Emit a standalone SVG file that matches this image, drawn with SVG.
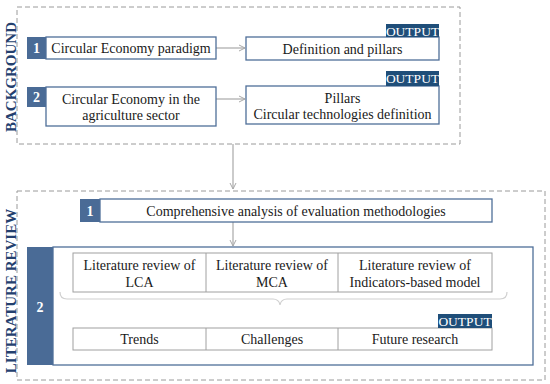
<svg xmlns="http://www.w3.org/2000/svg" width="550" height="384" viewBox="0 0 550 384">
<style>
.dash{fill:none;stroke:#9a9a9a;stroke-width:1;stroke-dasharray:5,3}
.num{fill:#4a6b96}
.box{fill:#fff;stroke:#4f6f99;stroke-width:1.3}
.cell{fill:#fff;stroke:#a0a0a0;stroke-width:1}
.t{font-family:"Liberation Serif","Times New Roman",serif;font-size:14px;fill:#1a1a1a;text-anchor:middle}
.nt{font-family:"Liberation Serif","Times New Roman",serif;font-size:14px;font-weight:bold;fill:#fff;text-anchor:middle}
.out{fill:#1f4e79}
.ot{font-family:"Liberation Serif","Times New Roman",serif;font-size:13.5px;fill:#fff;text-anchor:middle}
.side{font-family:"Liberation Serif","Times New Roman",serif;font-size:15px;font-weight:bold;fill:#24406e;text-anchor:middle}
.conn{fill:none;stroke:#a8a8a8;stroke-width:1.2}
</style>
<defs>
<marker id="ah" markerWidth="8" markerHeight="8" refX="7" refY="4" orient="auto" markerUnits="userSpaceOnUse">
<path d="M1,1 L7,4 L1,7" fill="none" stroke="#a8a8a8" stroke-width="1"/>
</marker>
</defs>

<g id="background">
<rect class="dash" x="17" y="7" width="443" height="137"/>
<text class="side" transform="translate(16,77) rotate(-90)">BACKGROUND</text>
</g>

<g id="literature">
<rect class="dash" x="17" y="191" width="528" height="189"/>
<text class="side" transform="translate(16,291) rotate(-90)">LITERATURE REVIEW</text>
</g>

<g id="connectors">
<line class="conn" x1="216" y1="48" x2="245" y2="48" marker-end="url(#ah)"/>
<line class="conn" x1="216" y1="99" x2="245" y2="99" marker-end="url(#ah)"/>
<line class="conn" x1="233" y1="144" x2="233" y2="189" marker-end="url(#ah)"/>
<line class="conn" x1="233" y1="222" x2="233" y2="246" marker-end="url(#ah)"/>
</g>

<g id="bg1">
<rect class="num" x="27" y="37" width="19" height="22"/>
<text class="nt" x="36.5" y="53">1</text>
<rect class="box" x="46" y="37" width="170" height="22"/>
<text class="t" x="131" y="53">Circular Economy paradigm</text>
</g>

<g id="bg2">
<rect class="num" x="27" y="87" width="19" height="20"/>
<text class="nt" x="36.5" y="102">2</text>
<rect class="box" x="46" y="87" width="170" height="39"/>
<text class="t" x="131" y="104">Circular Economy in the</text>
<text class="t" x="131" y="120">agriculture sector</text>
</g>

<g id="out1">
<rect class="box" x="246" y="37" width="193" height="23"/>
<text class="t" x="342.5" y="54">Definition and pillars</text>
<rect class="out" x="386" y="24" width="53" height="13"/>
<text class="ot" x="412.5" y="35.5">OUTPUT</text>
</g>

<g id="out2">
<rect class="box" x="246" y="86" width="193" height="38"/>
<text class="t" x="342.5" y="103">Pillars</text>
<text class="t" x="342.5" y="119">Circular technologies definition</text>
<rect class="out" x="386" y="71" width="53" height="15"/>
<text class="ot" x="412.5" y="83">OUTPUT</text>
</g>

<g id="lr1">
<rect class="num" x="80" y="199" width="20" height="23"/>
<text class="nt" x="90" y="215.5">1</text>
<rect class="box" x="100" y="199" width="392" height="23"/>
<text class="t" x="296" y="216">Comprehensive analysis of evaluation methodologies</text>
</g>

<g id="lr2">
<rect class="num" x="27" y="247" width="26" height="118"/>
<text class="nt" x="40" y="312">2</text>
<rect class="box" x="53" y="247" width="480" height="118"/>
<rect class="cell" x="73" y="253" width="419" height="39"/>
<line class="cell" x1="206" y1="253" x2="206" y2="292"/>
<line class="cell" x1="338" y1="253" x2="338" y2="292"/>
<text class="t" x="139.5" y="270">Literature review of</text>
<text class="t" x="139.5" y="287">LCA</text>
<text class="t" x="272" y="270">Literature review of</text>
<text class="t" x="272" y="287">MCA</text>
<text class="t" x="415" y="270">Literature review of</text>
<text class="t" x="415" y="287">Indicators-based model</text>
<path d="M60,292 Q60,299 67,299 L273,299 Q279,299 280,305 Q281,299 287,299 L500,299 Q507,299 507,292" fill="none" stroke="#d0d0d0" stroke-width="1.2"/>
<rect class="cell" x="73" y="328" width="419" height="22"/>
<line class="cell" x1="206" y1="328" x2="206" y2="350"/>
<line class="cell" x1="338" y1="328" x2="338" y2="350"/>
<text class="t" x="139.5" y="344">Trends</text>
<text class="t" x="272" y="344">Challenges</text>
<text class="t" x="415" y="344">Future research</text>
<rect class="out" x="438" y="314" width="54" height="14"/>
<text class="ot" x="465" y="325.5">OUTPUT</text>
</g>
</svg>
